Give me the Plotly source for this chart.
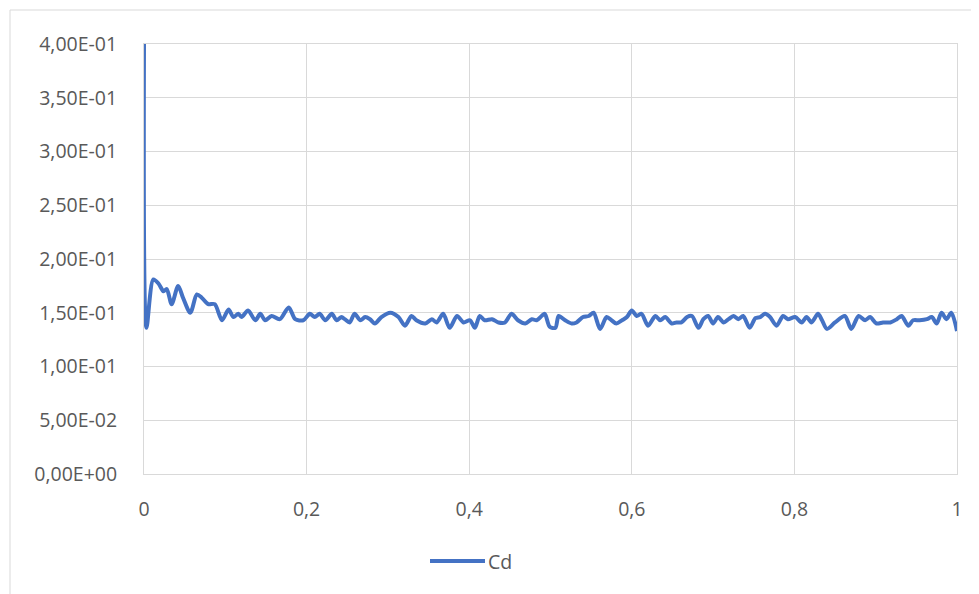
import plotly.graph_objects as go

# ---- data ----
x_vals = [
    0.000, 0.003, 0.0115, 0.018, 0.024, 0.028, 0.034, 0.042, 0.048, 0.057,
    0.065, 0.071, 0.079, 0.087, 0.096, 0.104, 0.110, 0.116, 0.120, 0.128,
    0.137, 0.143, 0.149, 0.157, 0.167, 0.178, 0.186, 0.196, 0.204, 0.210,
    0.216, 0.223, 0.231, 0.237, 0.243,
    0.247, 0.253, 0.259, 0.266, 0.272, 0.278, 0.284, 0.292, 0.303, 0.313,
    0.321, 0.329, 0.335, 0.346, 0.354, 0.360, 0.368, 0.376, 0.385, 0.393,
    0.401, 0.407, 0.413, 0.419, 0.428, 0.436, 0.444, 0.452, 0.460, 0.469,
    0.477, 0.483, 0.489, 0.493,
    0.499, 0.506, 0.510, 0.518, 0.526, 0.532, 0.540, 0.547, 0.553, 0.561,
    0.569, 0.575, 0.581, 0.588, 0.594, 0.600, 0.606, 0.612, 0.620, 0.629,
    0.635, 0.641, 0.649, 0.655, 0.661, 0.668, 0.674, 0.682, 0.688, 0.694,
    0.700, 0.706, 0.713, 0.719, 0.725, 0.731, 0.737, 0.745,
    0.752, 0.758, 0.764, 0.770, 0.778, 0.786, 0.792, 0.801, 0.809, 0.815,
    0.821, 0.829, 0.834, 0.840, 0.850, 0.862, 0.870, 0.879, 0.887, 0.893,
    0.901, 0.909, 0.918, 0.926, 0.932, 0.940, 0.946, 0.954, 0.963, 0.969,
    0.975, 0.981, 0.987, 0.993, 1.000,
]
cd_vals = [
    0.400, 0.136, 0.181, 0.177, 0.170, 0.172, 0.158, 0.175, 0.164, 0.150,
    0.167, 0.164, 0.158, 0.158, 0.143, 0.153, 0.146, 0.149, 0.146, 0.152,
    0.143, 0.149, 0.143, 0.147, 0.144, 0.155, 0.144, 0.143, 0.149, 0.146,
    0.149, 0.143, 0.149, 0.143, 0.146,
    0.144, 0.141, 0.149, 0.143, 0.146, 0.144, 0.140, 0.146, 0.150, 0.146,
    0.138, 0.147, 0.143, 0.140, 0.144, 0.141, 0.149, 0.136, 0.147, 0.141,
    0.143, 0.136, 0.147, 0.143, 0.144, 0.141, 0.141, 0.149, 0.143, 0.140,
    0.144, 0.143, 0.147, 0.149,
    0.137, 0.136, 0.147, 0.143, 0.140, 0.141, 0.146, 0.147, 0.150, 0.135,
    0.146, 0.143, 0.140, 0.143, 0.146, 0.152, 0.147, 0.149, 0.138, 0.147,
    0.143, 0.146, 0.140, 0.141, 0.141, 0.146, 0.147, 0.136, 0.144, 0.147,
    0.140, 0.146, 0.141, 0.144, 0.147, 0.144, 0.147, 0.136,
    0.145, 0.146, 0.149, 0.146, 0.138, 0.147, 0.144, 0.146, 0.141, 0.146,
    0.141, 0.149, 0.143, 0.135, 0.141, 0.147, 0.135, 0.147, 0.143, 0.146,
    0.140, 0.141, 0.141, 0.144, 0.147, 0.138, 0.143, 0.143, 0.144, 0.146,
    0.140, 0.150, 0.144, 0.150, 0.133,
]
series_name = "Cd"

x_tick_vals = [0, 0.2, 0.4, 0.6, 0.8, 1]
x_tick_text = ["0", "0,2", "0,4", "0,6", "0,8", "1"]
y_tick_vals = [0, 0.05, 0.10, 0.15, 0.20, 0.25, 0.30, 0.35, 0.40]
y_tick_text = ["0,00E+00", "5,00E-02", "1,00E-01", "1,50E-01", "2,00E-01",
               "2,50E-01", "3,00E-01", "3,50E-01", "4,00E-01"]

# ---- figure (page body has an 8px margin, so everything is shifted by it) ----
OFF = 8
W, H = 979 - OFF, 594 - OFF
L, R, T, B = 144 - OFF, 22, 44 - OFF, 120
pw, ph = W - L - R, H - T - B

def px_x(p):
    return (p - OFF - L) / pw

def px_y(p):
    return (H - B - (p - OFF)) / ph

grid = "#d9d9d9"
txt = "#595959"
blue = "#4472C4"
font_family = "Open Sans, Lato, sans-serif"
fs = 19.5

fig = go.Figure()
fig.add_trace(go.Scatter(
    x=x_vals, y=cd_vals, mode="lines", name=series_name, showlegend=False,
    line=dict(color=blue, width=4, shape="spline", smoothing=0.8),
))

fig.update_layout(
    width=W, height=H,
    margin=dict(l=L, r=R, t=T, b=B, autoexpand=False),
    paper_bgcolor="white", plot_bgcolor="white",
    font=dict(family=font_family, size=fs, color=txt),
    showlegend=False,
    xaxis=dict(range=[0, 1], tickvals=x_tick_vals, ticktext=x_tick_text,
               showgrid=True, gridcolor=grid, gridwidth=1,
               showline=True, linecolor=grid, linewidth=1, mirror=True,
               zeroline=False, ticks="", ticklabelstandoff=18),
    yaxis=dict(range=[0, 0.4], tickvals=y_tick_vals, ticktext=y_tick_text,
               showgrid=True, gridcolor=grid, gridwidth=1,
               showline=True, linecolor=grid, linewidth=1, mirror=True,
               zeroline=False, ticks="", ticklabelstandoff=22),
    shapes=[
        dict(type="rect", xref="paper", yref="paper",
             x0=px_x(10), x1=px_x(976), y0=px_y(620), y1=px_y(10),
             line=dict(color=grid, width=1), layer="below"),
        # legend sample line
        dict(type="line", xref="paper", yref="paper",
             x0=px_x(430), x1=px_x(485), y0=px_y(561), y1=px_y(561),
             line=dict(color=blue, width=4)),
    ],
    annotations=[
        dict(text=series_name, xref="paper", yref="paper",
             x=px_x(486), y=px_y(561), xanchor="left", yanchor="middle",
             showarrow=False, font=dict(family=font_family, size=fs, color=txt)),
    ],
)

fig.write_html("out.html")
